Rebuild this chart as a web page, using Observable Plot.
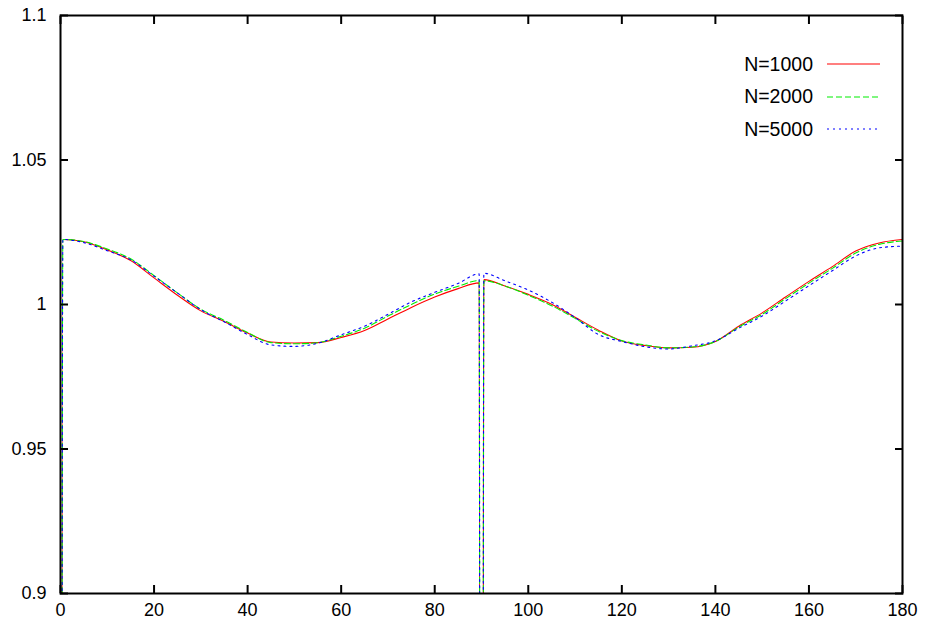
<!DOCTYPE html>
<html>
<head>
<meta charset="utf-8">
<script src="https://cdn.jsdelivr.net/npm/d3@7"></script>
<script src="https://cdn.jsdelivr.net/npm/@observablehq/plot@0.6"></script>
<style>
  body { margin: 0; background: #fff; }
  #wrap { position: relative; width: 925px; height: 622px; font-family: "Liberation Sans", Arial, sans-serif; }
  #legend { position: absolute; left: 710px; top: 48px; font-size: 19.5px; color: #000; }
  .row { display: flex; align-items: center; height: 32.5px; }
  .row span { display: inline-block; width: 103px; text-align: right; }
  .row svg { margin-left: 14px; }
</style>
</head>
<body>
<div id="wrap"><div id="legend"></div></div>
<script>
// x positions (degrees)
const angles = [0, 0.5, 5, 10, 15, 20, 25, 30, 35, 40, 45, 50, 55, 60, 65, 70, 75, 80, 85, 89.5,
  90, 90.5, 95, 100, 105, 110, 115, 120, 125, 130, 135, 140, 145, 150, 155, 160, 165, 170, 175, 180];

const n1000 = [0, 1.0225, 1.0217, 1.0189, 1.0152, 1.0092, 1.0032, 0.9978, 0.9941, 0.9901, 0.9870, 0.9867, 0.9868, 0.9886, 0.9910, 0.9950, 0.9990, 1.0026, 1.0055, 1.0075,
  0, 1.0086, 1.0064, 1.0035, 1.0001, 0.9956, 0.9911, 0.9874, 0.9858, 0.9850, 0.9852, 0.9872, 0.9925, 0.9971, 1.0026, 1.0080, 1.0131, 1.0185, 1.0213, 1.0225];

const n2000 = [0, 1.0225, 1.0218, 1.0192, 1.0158, 1.0100, 1.0040, 0.9984, 0.9945, 0.9903, 0.9868, 0.9864, 0.9868, 0.9890, 0.9918, 0.9960, 1.0000, 1.0036, 1.0063, 1.0083,
  0, 1.0082, 1.0064, 1.0032, 0.9996, 0.9952, 0.9907, 0.9875, 0.9860, 0.9850, 0.9853, 0.9872, 0.9922, 0.9966, 1.0020, 1.0074, 1.0125, 1.0178, 1.0208, 1.0220];

const n5000 = [0, 1.0225, 1.0214, 1.0186, 1.0155, 1.0098, 1.0040, 0.9982, 0.9940, 0.9896, 0.9860, 0.9855, 0.9866, 0.9895, 0.9925, 0.9966, 1.0009, 1.0042, 1.0073, 1.0106,
  0, 1.0108, 1.0082, 1.0050, 1.0008, 0.9955, 0.9896, 0.9872, 0.9854, 0.9846, 0.9857, 0.9874, 0.9918, 0.9960, 1.0012, 1.0065, 1.0117, 1.0168, 1.0196, 1.0202];

const seriesNames = ["N=1000", "N=2000", "N=5000"];
const seriesColors = ["#ff0000", "#00ee00", "#0000ff"];
const seriesDash = [null, "6,3", "2,4"];
const seriesValues = [n1000, n2000, n5000];

const xTicks = [0, 20, 40, 60, 80, 100, 120, 140, 160, 180];
const yTicks = [0.9, 0.95, 1, 1.05, 1.1];

const series = seriesNames.map((name, k) => ({
  name, color: seriesColors[k], dash: seriesDash[k],
  data: angles.map((a, i) => ({angle: a, value: seriesValues[k][i]}))
}));

const blank = () => "";

const chart = Plot.plot({
  width: 925,
  height: 622,
  marginLeft: 60,
  marginRight: 23,
  marginTop: 15,
  marginBottom: 29,
  style: { fontFamily: '"Liberation Sans", Arial, sans-serif', fontSize: "18px", background: "#fff", color: "#000" },
  x: { domain: [0, 180] },
  y: { domain: [0.9, 1.1] },
  marks: [
    ...series.map(s => Plot.line(s.data, {
      x: "angle", y: "value", stroke: s.color, strokeWidth: 1.1,
      strokeDasharray: s.dash, clip: true, curve: "monotone-x"
    })),
    Plot.axisX(xTicks, { anchor: "bottom", tickSize: 0, tickPadding: 10, label: null, tickFormat: d => String(d) }),
    Plot.axisX(xTicks, { anchor: "bottom", tickSize: -8, tickFormat: blank, label: null, strokeWidth: 2 }),
    Plot.axisX(xTicks, { anchor: "top", tickSize: -8, tickFormat: blank, label: null, strokeWidth: 2 }),
    Plot.axisY(yTicks, { anchor: "left", tickSize: 0, tickPadding: 14, label: null, tickFormat: d => String(d) }),
    Plot.axisY(yTicks, { anchor: "left", tickSize: -8, tickFormat: blank, label: null, strokeWidth: 2 }),
    Plot.axisY(yTicks, { anchor: "right", tickSize: -8, tickFormat: blank, label: null, strokeWidth: 2 }),
    Plot.frame({ stroke: "#000", strokeWidth: 2 })
  ]
});

const wrap = document.getElementById("wrap");
wrap.insertBefore(chart, wrap.firstChild);

const legend = document.getElementById("legend");
series.forEach(s => {
  const row = document.createElement("div");
  row.className = "row";
  const label = document.createElement("span");
  label.textContent = s.name;
  row.appendChild(label);
  const svg = d3.create("svg").attr("width", 54).attr("height", 6);
  svg.append("line").attr("x1", 0).attr("x2", 53).attr("y1", 3).attr("y2", 3)
    .attr("stroke", s.color).attr("stroke-width", 1.1)
    .attr("stroke-dasharray", s.dash);
  row.appendChild(svg.node());
  legend.appendChild(row);
});
</script>
</body>
</html>
